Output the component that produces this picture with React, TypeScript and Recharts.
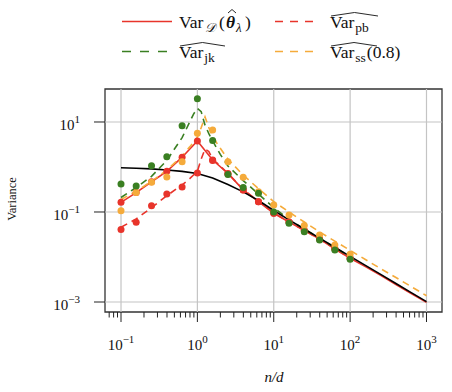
import React from "react";
import {
  ComposedChart,
  Line,
  Scatter,
  XAxis,
  YAxis,
  ReferenceLine,
  ReferenceArea,
} from "recharts";

document.body.style.margin = "0";

// sample sizes of the Monte Carlo points (n/d)
const pointX = [0.1, 0.158, 0.251, 0.398, 0.631, 1, 1.585, 2.512, 3.981, 6.31, 10, 15.85, 25.12, 39.81, 63.1, 100];
const varDPoints = [0.164, 0.27, 0.47, 0.8, 1.65, 3.8, 1.43, 0.72, 0.31, 0.17, 0.094, 0.06, 0.039, 0.025, 0.0152, 0.0094];
const pbPoints = [0.041, 0.059, 0.138, 0.25, 0.36, 0.74, 1.4, 0.7, 0.31, 0.17, 0.094, 0.06, 0.039, 0.025, 0.0152, 0.0094];
const jkPoints = [0.42, 0.38, 1.07, 1.69, 8.3, 33, 3.9, 0.68, 0.35, 0.26, 0.1, 0.056, 0.0365, 0.0239, 0.0143, 0.0089];
const ssPoints = [0.107, 0.27, 0.46, 0.6, 1.3, 5.6, 6.6, 1.31, 0.59, 0.28, 0.143, 0.086, 0.05, 0.031, 0.0185, 0.0115];

// curves
const theoryX = [0.1, 0.158, 0.251, 0.398, 0.631, 1, 1.585, 2.512, 3.981, 6.31, 10, 15.85, 25.12, 39.81, 63.1, 100, 158.5, 251.2, 398.1, 631, 1000];
const theoryY = [0.96, 0.94, 0.91, 0.86, 0.8, 0.72, 0.57, 0.41, 0.28, 0.18, 0.108, 0.067, 0.042, 0.0262, 0.0165, 0.0103, 0.0065, 0.0041, 0.00258, 0.00162, 0.00102];

const varDLineX = [...pointX, 158.5, 251.2, 398.1, 631, 1000];
const varDLineY = [...varDPoints, 0.0061, 0.0039, 0.00245, 0.00155, 0.00098];

const pbLineX = [0.1, 0.158, 0.251, 0.398, 0.631, 0.794, 1, 1.122, 1.259, 1.413, 1.585, 1.995, 2.512, 3.981, 6.31, 10, 15.85, 25.12, 39.81, 63.1, 100];
const pbLineY = [0.046, 0.07, 0.125, 0.23, 0.4, 0.55, 0.8, 1.5, 2.5, 2.2, 1.5, 1.05, 0.72, 0.32, 0.172, 0.096, 0.06, 0.039, 0.025, 0.0152, 0.0094];

const jkLineX = [0.1, 0.158, 0.251, 0.398, 0.631, 0.794, 0.891, 1, 1.122, 1.259, 1.413, 1.585, 1.995, 2.512, 3.981, 6.31, 10, 15.85, 25.12, 39.81, 63.1, 100];
const jkLineY = [0.21, 0.35, 0.62, 1.4, 4.5, 10, 15, 20, 17, 8.5, 5.5, 3.8, 1.9, 1.05, 0.5, 0.25, 0.125, 0.068, 0.042, 0.026, 0.0162, 0.0101];

const ssLineX = [0.1, 0.158, 0.251, 0.398, 0.631, 0.794, 1, 1.122, 1.259, 1.413, 1.585, 1.778, 1.995, 2.512, 3.981, 6.31, 10, 15.85, 25.12, 39.81, 63.1, 100, 158.5, 251.2, 398.1, 631, 1000];
const ssLineY = [0.19, 0.29, 0.48, 0.85, 1.75, 2.8, 4.6, 7.5, 13, 7.5, 4.8, 3.5, 2.6, 1.5, 0.66, 0.33, 0.17, 0.1, 0.06, 0.036, 0.0225, 0.014, 0.0088, 0.0055, 0.0035, 0.0022, 0.00138];

const xMajor = [0.1, 1, 10, 100, 1000];
const xMajorLabels = ["−1", "0", "1", "2", "3"];
const xMinor = [0.07, 0.08, 0.09, 0.2, 0.3, 0.4, 0.5, 0.6, 0.7, 0.8, 0.9, 2, 3, 4, 5, 6, 7, 8, 9, 20, 30, 40, 50, 60, 70, 80, 90, 200, 300, 400, 500, 600, 700, 800, 900];
const yMajor = [0.001, 0.1, 10];
const yMajorLabels = ["−3", "−1", "1"];

const X_DOMAIN: [number, number] = [0.06172, 1596];
const Y_DOMAIN: [number, number] = [5.995e-4, 54.1];

const RED = "#e8342b";
const GREEN = "#3a7f22";
const ORANGE = "#f5ab3b";
const FONT = "'Liberation Serif', serif";

const pairs = (xs: number[], ys: number[]) => xs.map((x, i) => ({ x, y: ys[i] }));

function XTick(props: any) {
  const { x, y, payload } = props;
  const i = xMajor.indexOf(payload.value);
  const major = i >= 0;
  return (
    <g>
      <line x1={x} x2={x} y1={y} y2={y + (major ? 10 : 5.5)} stroke="#222" strokeWidth={1} />
      {major && (
        <text x={x} y={y + 38} textAnchor="middle" fontFamily={FONT} fontSize={15} fill="#111">
          10
          <tspan dy={-7} fontSize={11}>
            {xMajorLabels[i]}
          </tspan>
        </text>
      )}
    </g>
  );
}

function YTick(props: any) {
  const { x, y, payload } = props;
  const i = yMajor.indexOf(payload.value);
  return (
    <g>
      <line x1={x - 11} x2={x} y1={y} y2={y} stroke="#222" strokeWidth={1} />
      <text x={x - 25} y={y + 8} textAnchor="end" fontFamily={FONT} fontSize={15} fill="#111">
        10
        <tspan dy={-7} fontSize={11}>
          {yMajorLabels[i]}
        </tspan>
      </text>
    </g>
  );
}

const Dot = (color: string) => (p: any) => <circle cx={p.cx} cy={p.cy} r={3.5} fill={color} />;

function Hat({ x0, x1, y }: { x0: number; x1: number; y: number }) {
  return <path d={`M${x0} ${y + 3.5} L${(x0 + x1) / 2} ${y} L${x1} ${y + 3.5}`} fill="none" stroke="#111" strokeWidth={0.9} />;
}

function LegendBox() {
  return (
    <svg width={452} height={70} style={{ position: "absolute", left: 0, top: 0 }}>
      <line x1={122} x2={172} y1={21.5} y2={21.5} stroke={RED} strokeWidth={1.6} />
      <text y={28} fontFamily={FONT} fontSize={17.5} fill="#111">
        <tspan x={179}>Var</tspan>
        <tspan x={205} fontSize={13} dy={4} fontStyle="italic">𝒟</tspan>
        <tspan x={219} dy={-4}>(</tspan>
        <tspan x={226} fontWeight="bold" fontStyle="italic">θ</tspan>
        <tspan x={236} fontSize={13} dy={4} fontStyle="italic">λ</tspan>
        <tspan x={245} dy={-4}>)</tspan>
      </text>
      <Hat x0={228} x1={236} y={9.5} />

      <line x1={275} x2={320} y1={21.5} y2={21.5} stroke={RED} strokeWidth={1.6} strokeDasharray="8 7" />
      <Hat x0={331} x1={378} y={12.5} />
      <text x={330} y={28} fontFamily={FONT} fontSize={17.5} fill="#111">
        Var
        <tspan fontSize={13.5} dy={4} dx={1}>pb</tspan>
      </text>

      <line x1={122} x2={170} y1={51.5} y2={51.5} stroke={GREEN} strokeWidth={1.6} strokeDasharray="9 9" />
      <Hat x0={180} x1={225} y={42.5} />
      <text x={179} y={58} fontFamily={FONT} fontSize={17.5} fill="#111">
        Var
        <tspan fontSize={13.5} dy={4} dx={1}>jk</tspan>
      </text>

      <line x1={275} x2={320} y1={51.5} y2={51.5} stroke={ORANGE} strokeWidth={1.6} strokeDasharray="8 7" />
      <Hat x0={331} x1={377} y={42.5} />
      <text x={330} y={58} fontFamily={FONT} fontSize={17.5} fill="#111">
        Var
        <tspan fontSize={13.5} dy={4} dx={1}>ss</tspan>
        <tspan dy={-4} dx={1}>(0.8)</tspan>
      </text>
    </svg>
  );
}

export default function App() {
  return (
    <div style={{ position: "relative", width: 452, height: 392, background: "#fff" }}>
      <ComposedChart width={452} height={392} margin={{ top: 89, right: 10, bottom: 10, left: 5 }}>
        <XAxis
          dataKey="x"
          type="number"
          scale="log"
          domain={X_DOMAIN}
          allowDataOverflow
          ticks={[...xMajor, ...xMinor]}
          interval={0}
          tick={<XTick />}
          tickLine={false}
          axisLine={false}
          tickSize={0}
          tickMargin={0}
          height={70}
        />
        <YAxis
          dataKey="y"
          type="number"
          scale="log"
          domain={Y_DOMAIN}
          allowDataOverflow
          ticks={yMajor}
          interval={0}
          tick={<YTick />}
          tickLine={false}
          axisLine={false}
          tickSize={0}
          tickMargin={0}
          width={100}
        />
        {xMajor.map((v) => (
          <ReferenceLine key={"gx" + v} x={v} stroke="#c4c4c4" strokeWidth={1.2} />
        ))}
        {yMajor.map((v) => (
          <ReferenceLine key={"gy" + v} y={v} stroke="#c4c4c4" strokeWidth={1.2} />
        ))}

        <Line data={pairs(varDLineX, varDLineY)} dataKey="y" stroke={RED} strokeWidth={1.6} dot={false} isAnimationActive={false} />
        <Line data={pairs(pbLineX, pbLineY)} dataKey="y" stroke={RED} strokeWidth={1.6} strokeDasharray="7 5" dot={false} isAnimationActive={false} />
        <Line data={pairs(ssLineX, ssLineY)} dataKey="y" stroke={ORANGE} strokeWidth={1.6} strokeDasharray="7 5" dot={false} isAnimationActive={false} />
        <Line data={pairs(jkLineX, jkLineY)} dataKey="y" stroke={GREEN} strokeWidth={1.6} strokeDasharray="7 5" dot={false} isAnimationActive={false} />
        <Line data={pairs(theoryX, theoryY)} dataKey="y" stroke="#000" strokeWidth={1.6} dot={false} isAnimationActive={false} />

        <Scatter data={pairs(pointX, varDPoints)} dataKey="y" shape={Dot(RED)} isAnimationActive={false} />
        <Scatter data={pairs(pointX, pbPoints)} dataKey="y" shape={Dot(RED)} isAnimationActive={false} />
        <Scatter data={pairs(pointX, ssPoints)} dataKey="y" shape={Dot(ORANGE)} isAnimationActive={false} />
        <Scatter data={pairs(pointX, jkPoints)} dataKey="y" shape={Dot(GREEN)} isAnimationActive={false} />

        <ReferenceArea x1={X_DOMAIN[0]} x2={X_DOMAIN[1]} y1={Y_DOMAIN[0]} y2={Y_DOMAIN[1]} fill="none" stroke="#333" strokeWidth={1.3} ifOverflow="visible" />

        <text x={274} y={382} textAnchor="middle" fontFamily={FONT} fontSize={15} fontStyle="italic" fill="#111">
          n/d
        </text>
        <text x={16} y={199} transform="rotate(-90 16 199)" textAnchor="middle" fontFamily={FONT} fontSize={12.5} fill="#111">
          Variance
        </text>
      </ComposedChart>
      <LegendBox />
    </div>
  );
}
